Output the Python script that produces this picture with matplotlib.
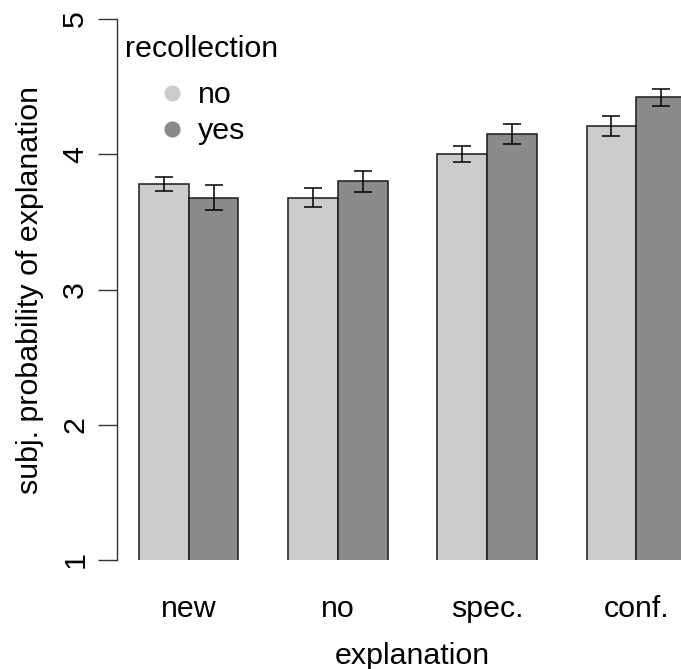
import matplotlib
matplotlib.use("Agg")
import matplotlib.pyplot as plt
import numpy as np

# Mean subjective probability of each explanation, split by recollection
categories = ["new", "no", "spec.", "conf."]
groups = ["no", "yes"]
mean_no = [3.78, 3.68, 4.00, 4.21]
mean_yes = [3.68, 3.80, 4.15, 4.42]
se_no = [0.055, 0.070, 0.060, 0.075]
se_yes = [0.093, 0.076, 0.073, 0.063]
yticks = [1, 2, 3, 4, 5]

colors = ["#cccccc", "#8a8a8a"]

W, H, DPI = 681, 669, 100
plt.rcParams["font.family"] = ["Liberation Sans", "DejaVu Sans"]
FS = 21.9

fig = plt.figure(figsize=(W / DPI, H / DPI), dpi=DPI)
# plotting region (extends past the right edge of the figure)
ax = fig.add_axes([117 / W, (H - 560) / H, (708 - 117) / W, (560 - 19) / H])

n = len(categories)
left_no = np.arange(n) * 3 + 1.0
left_yes = left_no + 1.0
means = [mean_no, mean_yes]
ses = [se_no, se_yes]
lefts = [left_no, left_yes]

for k in range(2):
    ax.bar(lefts[k], np.asarray(means[k]), width=1.0, bottom=0, align="edge",
           color=colors[k], edgecolor="#1a1a1a", linewidth=1.1, zorder=2)
    ax.errorbar(lefts[k] + 0.5, means[k], yerr=ses[k], fmt="none",
                ecolor="black", elinewidth=1.1, capsize=6.5, capthick=1.1,
                zorder=3)

ax.set_xlim(0.56, 12.44)
ax.set_ylim(1, 5)

for s in ["top", "right", "bottom"]:
    ax.spines[s].set_visible(False)
ax.spines["left"].set_linewidth(1.0)
ax.spines["left"].set_color("#333333")

ax.set_yticks(yticks)
ax.set_yticklabels([str(t) for t in yticks], rotation=90, va="center",
                   fontsize=FS)
ax.tick_params(axis="y", length=14, width=1.0, color="#333333", pad=6)

ax.set_xticks(left_yes)
ax.set_xticklabels(categories, fontsize=FS)
ax.tick_params(axis="x", length=0, pad=25)

fig.text(412 / W, 1 - 664 / H, "explanation", ha="center", va="baseline",
         fontsize=FS)
fig.text(38 / W, 1 - 290 / H, "subj. probability of explanation",
         ha="center", va="baseline", rotation=90, rotation_mode="anchor",
         fontsize=FS)

# legend
fig.text(125 / W, 1 - 57 / H, "recollection", ha="left", va="baseline",
         fontsize=FS)
for lbl, col, ym, yb in zip(groups, colors, [93.3, 129.3], [103, 139]):
    fig.add_artist(plt.Line2D([171.7 / W], [1 - ym / H], marker="o",
                              markersize=10.6, color=col, linestyle="none",
                              transform=fig.transFigure))
    fig.text(198 / W, 1 - yb / H, lbl, ha="left", va="baseline", fontsize=FS)

fig.savefig("out.png", dpi=DPI)
